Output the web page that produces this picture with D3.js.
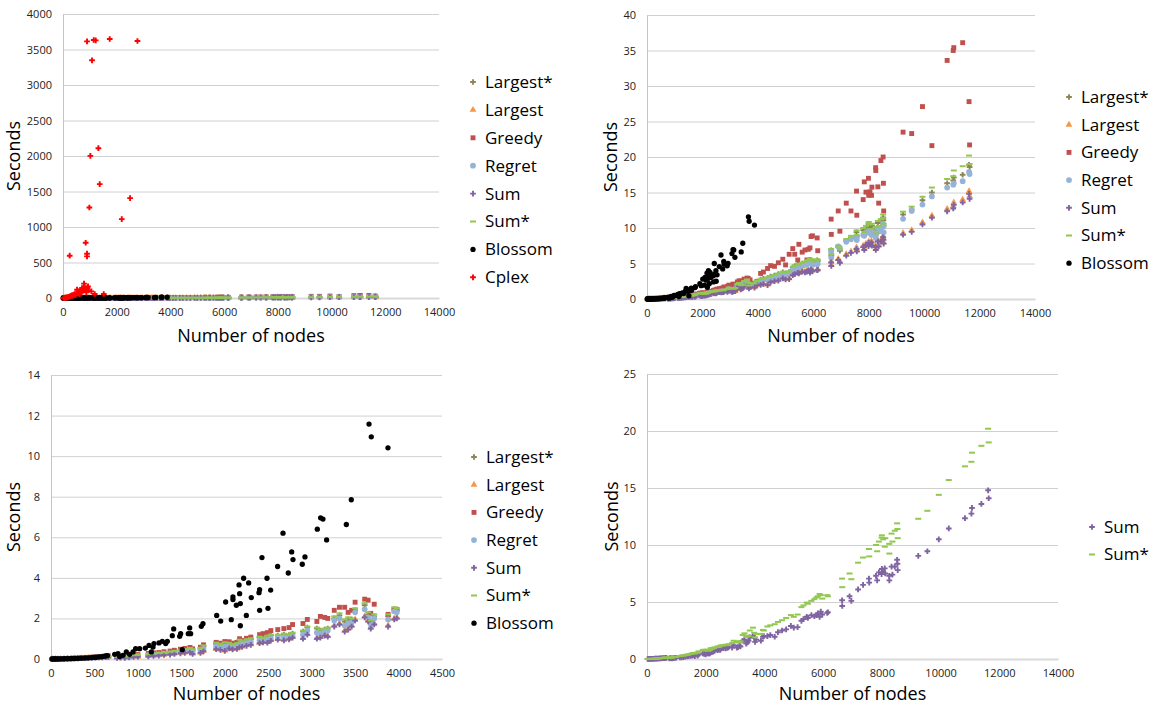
<!DOCTYPE html>
<html>
<head>
<meta charset="utf-8">
<script src="https://cdn.jsdelivr.net/npm/d3@7"></script>
<style>
  body { margin: 0; background: #fff; }
  svg { display: block; font-family: "Open Sans", sans-serif; }
</style>
</head>
<body>
<svg id="chart" width="1150" height="706"></svg>
<script>
// ---- data ----
// heuristic instances: number of nodes
const heurNodes = [20, 50, 80, 110, 150, 190, 230, 270, 310, 350, 390, 430, 470, 510, 550, 590, 630, 660,
  760, 800, 850, 900, 950, 1000, 1120, 1180, 1240, 1300, 1370, 1420, 1490, 1540, 1600, 1630, 1720, 1755,
  1900, 1950, 2000, 2050, 2090, 2140, 2170, 2200, 2250, 2300, 2400, 2440, 2490, 2530, 2610, 2680, 2740, 2780,
  2900, 2950, 3060, 3100, 3150, 3185, 3260, 3320, 3380, 3420, 3460, 3500, 3610, 3650, 3680, 3720, 3880, 3950, 3980,
  4100, 4200, 4350, 4460, 4600, 4740, 4900, 5000, 5130, 5260, 5330, 5440, 5480, 5600, 5700, 5770, 5820, 5880, 5920, 5970, 6140, 6160,
  6645, 6650, 6900, 6960, 7190, 7360, 7560, 7570,
  7800, 7840, 7900, 7990, 8000, 8045, 8100, 8115, 8250, 8255, 8330, 8360, 8440, 8520, 8530, 8540,
  9240, 9550, 9940, 10280, 10830, 11050, 11070, 11390, 11620, 11640];

const sumSecs = [0.001, 0.002, 0.004, 0.006, 0.01, 0.015, 0.018, 0.025, 0.03, 0.037, 0.042, 0.05, 0.059, 0.065, 0.076, 0.084, 0.096, 0.1,
  0.05, 0.07, 0.06, 0.08, 0.1, 0.11, 0.13, 0.15, 0.17, 0.2, 0.22, 0.25, 0.28, 0.3, 0.33, 0.25, 0.3, 0.38,
  0.48, 0.45, 0.4, 0.52, 0.47, 0.5, 0.58, 0.6, 0.65, 0.7, 0.78, 0.82, 0.8, 0.9, 0.95, 0.92, 0.97, 1.05,
  1.0, 1.2, 1.0, 1.05, 1.15, 1.1, 1.6, 1.7, 1.35, 1.45, 1.6, 1.9, 2.05, 1.85, 1.5, 1.7, 1.6, 1.95, 2.0,
  2.0, 2.1, 1.95, 2.35, 2.5, 2.6, 2.9, 2.75, 2.8, 3.35, 3.5, 3.7, 3.6, 3.85, 3.75, 3.85, 4.0, 3.7, 4.15, 3.9, 4.05, 4.1,
  5.15, 4.65, 5.5, 5.1, 6.1, 6.5, 7.05, 6.7,
  7.3, 6.9, 7.6, 7.45, 7.9, 7.65, 7.95, 7.5, 7.3, 6.9, 8.1, 7.4, 8.1, 8.7, 8.35, 7.8,
  9.05, 9.45, 10.5, 11.45, 12.35, 12.75, 13.25, 13.6, 14.8, 14.1];

const sumStarSecs = [0.001, 0.003, 0.005, 0.008, 0.013, 0.019, 0.025, 0.031, 0.04, 0.049, 0.056, 0.068, 0.077, 0.09, 0.1, 0.115, 0.127, 0.14,
  0.1, 0.13, 0.12, 0.16, 0.19, 0.2, 0.25, 0.28, 0.3, 0.33, 0.36, 0.4, 0.45, 0.5, 0.54, 0.48, 0.55, 0.67,
  0.8, 0.75, 0.82, 0.8, 0.73, 0.78, 0.95, 0.88, 0.97, 1.02, 1.1, 1.05, 1.15, 1.2, 1.2, 1.25, 1.22, 1.3,
  1.4, 1.6, 1.55, 1.45, 1.5, 1.55, 2.1, 2.25, 1.95, 2.05, 2.0, 2.5, 2.75, 2.3, 1.9, 2.2, 2.2, 2.55, 2.5,
  2.85, 2.95, 3.05, 3.25, 3.4, 3.6, 3.85, 3.7, 3.9, 4.55, 4.7, 4.95, 4.85, 5.1, 5.25, 5.4, 5.5, 5.7, 5.6, 5.3, 5.6, 5.5,
  7.05, 6.3, 7.5, 7.0, 8.45, 8.9, 9.65, 9.0,
  10.0, 9.45, 10.3, 10.65, 10.85, 10.5, 9.85, 10.6, 10.1, 9.25, 11.0, 10.3, 11.25, 11.9, 11.4, 10.6,
  12.3, 13.0, 14.4, 15.7, 16.9, 17.3, 18.1, 18.7, 20.2, 19.0];

const largestSecs = [0.001, 0.002, 0.004, 0.007, 0.011, 0.015, 0.02, 0.026, 0.032, 0.038, 0.045, 0.053, 0.061, 0.07, 0.079, 0.09, 0.1, 0.106,
  0.06, 0.08, 0.07, 0.09, 0.11, 0.12, 0.14, 0.16, 0.18, 0.21, 0.24, 0.27, 0.3, 0.32, 0.35, 0.27, 0.32, 0.4,
  0.5, 0.47, 0.42, 0.54, 0.49, 0.52, 0.6, 0.62, 0.68, 0.72, 0.8, 0.85, 0.83, 0.93, 0.98, 0.95, 1.0, 1.08,
  1.03, 1.23, 1.03, 1.08, 1.18, 1.13, 1.65, 1.75, 1.4, 1.5, 1.65, 1.95, 2.1, 1.9, 1.55, 1.75, 1.65, 2.0, 2.05,
  2.1, 2.2, 2.05, 2.45, 2.6, 2.7, 3.0, 2.85, 2.9, 3.45, 3.6, 3.8, 3.7, 3.95, 3.85, 3.95, 4.1, 3.8, 4.25, 4.0, 4.15, 4.2,
  5.3, 4.8, 5.65, 5.25, 6.3, 6.7, 7.25, 6.9,
  7.5, 7.1, 7.8, 7.65, 8.1, 7.85, 8.15, 7.7, 7.5, 7.1, 8.3, 7.6, 8.3, 8.9, 8.55, 8.0,
  9.3, 9.7, 10.8, 11.75, 12.7, 13.1, 13.6, 14.0, 15.2, 14.5];

const largestStarSecs = [0.001, 0.003, 0.005, 0.008, 0.012, 0.017, 0.024, 0.03, 0.038, 0.046, 0.055, 0.064, 0.074, 0.085, 0.096, 0.108, 0.12, 0.13,
  0.09, 0.12, 0.11, 0.15, 0.18, 0.19, 0.23, 0.26, 0.28, 0.31, 0.34, 0.38, 0.43, 0.47, 0.51, 0.45, 0.52, 0.63,
  0.76, 0.72, 0.78, 0.76, 0.7, 0.75, 0.9, 0.84, 0.93, 0.98, 1.06, 1.0, 1.1, 1.15, 1.15, 1.2, 1.18, 1.25,
  1.35, 1.55, 1.5, 1.4, 1.45, 1.5, 2.0, 2.15, 1.85, 1.95, 1.95, 2.4, 2.65, 2.2, 1.85, 2.1, 2.1, 2.45, 2.4,
  2.75, 2.85, 2.95, 3.15, 3.3, 3.5, 3.75, 3.6, 3.8, 4.45, 4.6, 4.85, 4.75, 5.0, 5.1, 5.25, 5.35, 5.5, 5.45, 5.15, 5.45, 5.35,
  6.85, 6.1, 7.3, 6.8, 8.2, 8.6, 9.4, 8.75,
  9.7, 9.2, 10.0, 10.3, 10.5, 10.2, 9.6, 10.3, 9.8, 9.0, 10.7, 10.0, 10.9, 11.5, 11.1, 10.3,
  11.9, 12.6, 13.9, 15.0, 16.3, 16.7, 17.1, 17.5, 18.9, 18.6];

const regretSecs = [0.001, 0.003, 0.005, 0.008, 0.012, 0.017, 0.023, 0.029, 0.036, 0.044, 0.052, 0.06, 0.07, 0.08, 0.09, 0.1, 0.112, 0.12,
  0.08, 0.1, 0.09, 0.12, 0.15, 0.16, 0.19, 0.21, 0.23, 0.26, 0.28, 0.31, 0.35, 0.38, 0.41, 0.36, 0.42, 0.5,
  0.62, 0.6, 0.62, 0.64, 0.58, 0.62, 0.75, 0.72, 0.8, 0.85, 0.92, 0.9, 0.95, 1.0, 1.05, 1.08, 1.05, 1.12,
  1.2, 1.4, 1.3, 1.25, 1.35, 1.4, 1.9, 2.0, 1.65, 1.75, 1.8, 2.3, 2.45, 2.05, 1.7, 2.0, 1.95, 2.35, 2.3,
  2.6, 2.7, 2.75, 3.0, 3.1, 3.3, 3.5, 3.4, 3.6, 4.1, 4.3, 4.5, 4.4, 4.7, 4.8, 4.9, 5.0, 5.1, 5.1, 4.8, 4.9, 4.95,
  6.65, 5.8, 7.4, 7.2, 8.05, 8.4, 8.55, 8.3,
  9.0, 8.9, 9.3, 9.5, 9.6, 9.3, 9.0, 9.4, 9.2, 8.6, 9.9, 9.5, 10.0, 10.6, 10.2, 9.4,
  11.3, 12.4, 13.3, 14.45, 15.7, 16.1, 16.3, 16.6, 17.9, 17.6];

const greedySecs = [0.001, 0.003, 0.006, 0.009, 0.014, 0.02, 0.027, 0.035, 0.045, 0.054, 0.065, 0.076, 0.088, 0.1, 0.115, 0.13, 0.145, 0.155,
  0.11, 0.14, 0.13, 0.17, 0.2, 0.22, 0.27, 0.3, 0.32, 0.36, 0.39, 0.43, 0.48, 0.52, 0.57, 0.5, 0.58, 0.7,
  0.82, 0.78, 0.86, 0.85, 0.78, 0.82, 1.0, 0.92, 1.02, 1.08, 1.2, 1.25, 1.3, 1.4, 1.45, 1.5, 1.55, 1.7,
  1.75, 1.95, 1.85, 2.1, 2.05, 2.0, 2.4, 2.55, 2.55, 2.3, 2.4, 2.8, 2.95, 2.9, 2.25, 2.7, 2.2, 2.4, 2.45,
  3.6, 3.8, 4.3, 4.7, 4.6, 5.1, 5.6, 4.8, 6.3, 7.1, 6.3, 5.5, 7.7, 6.6, 6.9, 5.5, 7.0, 7.2, 8.8, 8.9, 8.6, 6.8,
  11.25, 9.1, 12.4, 9.55, 13.5, 12.4, 15.2, 11.8,
  14.0, 16.5, 15.05, 17.0, 14.6, 15.1, 14.6, 15.75, 18.5, 18.1, 15.8, 13.5, 19.5, 20.0, 16.3, 12.4,
  23.5, 23.3, 27.1, 21.6, 33.6, 35.0, 35.4, 36.1, 27.8, 21.7];

const blossomNodes = [10, 25, 40, 55, 70, 90, 110, 130, 150, 175, 200, 225, 250, 280, 310, 340, 370, 400, 430, 460, 490, 520, 550, 580, 610, 630, 650,
  733, 771, 790, 829, 867, 905, 944, 974, 1020, 1086, 1128, 1155, 1174, 1185, 1243, 1281, 1320, 1339, 1396, 1412, 1481, 1492, 1511,
  1580, 1596, 1607, 1730, 1749, 1907, 1953, 2010, 2075, 2094, 2094, 2133, 2164, 2171, 2179, 2179, 2217, 2248, 2275, 2305,
  2394, 2401, 2401, 2428, 2486, 2497, 2528, 2608, 2670, 2731, 2770, 2785, 2892, 2923, 3065, 3103, 3130, 3172, 3399, 3456, 3660, 3686, 3878];
const blossomSecs = [0.001, 0.002, 0.003, 0.004, 0.005, 0.006, 0.008, 0.01, 0.012, 0.015, 0.018, 0.021, 0.025, 0.029, 0.034, 0.039, 0.045, 0.052, 0.06, 0.068, 0.077, 0.087, 0.1, 0.11, 0.13, 0.15, 0.17,
  0.23, 0.26, 0.12, 0.18, 0.35, 0.23, 0.35, 0.51, 0.51, 0.54, 0.67, 0.35, 0.59, 0.76, 0.79, 0.87, 0.76, 0.87, 1.15, 1.48, 1.12, 1.25, 0.46,
  1.25, 1.53, 1.25, 1.61, 1.74, 2.15, 1.87, 2.81, 1.94, 2.93, 3.06, 2.65, 3.65, 3.22, 2.73, 1.64, 3.98, 2.15, 3.75, 3.03,
  3.27, 3.42, 2.4, 5.0, 3.98, 2.5, 3.4, 4.56, 6.2, 4.24, 5.28, 4.9, 4.67, 5.03, 6.4, 6.96, 6.9, 5.87, 6.63, 7.85, 11.58, 10.95, 10.41];

const cplexNodes = [20, 50, 80, 110, 140, 170, 200, 230, 249, 260, 290, 320, 350, 380, 410, 440, 470, 500, 522, 540, 559, 590, 620, 650, 680, 710, 740,
  783, 800, 820, 845, 870, 895, 895, 895, 910, 932, 950, 982, 1019, 1057, 1081, 1144, 1181, 1218, 1318, 1367, 1516, 1740, 2188, 2498, 2772];
const cplexSecs = [1, 2, 3, 5, 7, 10, 14, 18, 596, 23, 28, 34, 40, 30, 48, 55, 40, 70, 117, 60, 70, 95, 50, 110, 85, 140, 100,
  202, 160, 120, 778, 80, 3615, 624, 586, 140, 164, 110, 1275, 2002, 94, 3348, 3634, 56, 3629, 2110, 1604, 56, 3648, 1111, 1407, 3620];

const legendNames = ["Largest*", "Largest", "Greedy", "Regret", "Sum", "Sum*", "Blossom", "Cplex"];

// ---- styles ----
const styles = {
  "Largest*": { color: "#8c8556", sym: d3.symbolCross, size: 18 },
  "Largest":  { color: "#f79646", sym: d3.symbolTriangle, size: 20 },
  "Greedy":   { color: "#c0504d", sym: d3.symbolSquare, size: 24 },
  "Regret":   { color: "#95b3d7", sym: d3.symbolCircle, size: 26 },
  "Sum":      { color: "#8064a2", sym: d3.symbolCross, size: 18 },
  "Sum*":     { color: "#92c84f", sym: null },
  "Blossom":  { color: "#000000", sym: d3.symbolCircle, size: 22 },
  "Cplex":    { color: "#ff0000", sym: d3.symbolCross, size: 18 }
};

const seriesData = {
  "Largest*": [heurNodes, largestStarSecs],
  "Largest":  [heurNodes, largestSecs],
  "Greedy":   [heurNodes, greedySecs],
  "Regret":   [heurNodes, regretSecs],
  "Sum":      [heurNodes, sumSecs],
  "Sum*":     [heurNodes, sumStarSecs],
  "Blossom":  [blossomNodes, blossomSecs],
  "Cplex":    [cplexNodes, cplexSecs]
};

// nodeMax: the bottom-left chart only holds the instances below 4000 nodes
const panels = [
  { left: 63, right: 439, top: 14, bottom: 298, xMax: 14000, xStep: 2000, yMax: 4000, yStep: 500, nodeMax: 14000,
    names: legendNames, legX: 473, legY: 82, legStep: 27.9, yTitleX: 20, xTitleY: 342 },
  { left: 647, right: 1035, top: 15, bottom: 299, xMax: 14000, xStep: 2000, yMax: 40, yStep: 5, nodeMax: 14000,
    names: legendNames.slice(0, 7), legX: 1069, legY: 97, legStep: 27.7, yTitleX: 617, xTitleY: 342 },
  { left: 51, right: 442, top: 375, bottom: 659, xMax: 4500, xStep: 500, yMax: 14, yStep: 2, nodeMax: 4000,
    names: legendNames.slice(0, 7), legX: 474, legY: 457, legStep: 27.7, yTitleX: 20, xTitleY: 700 },
  { left: 647, right: 1058, top: 374, bottom: 659, xMax: 14000, xStep: 2000, yMax: 25, yStep: 5, nodeMax: 14000,
    names: ["Sum", "Sum*"], legX: 1092, legY: 527, legStep: 27.5, yTitleX: 618, xTitleY: 700 }
];

const svg = d3.select("#chart");
svg.append("rect").attr("width", 1150).attr("height", 706).attr("fill", "#fff");

// one marker drawn at (x, y)
const drawMarker = (g, name, x, y) => {
  const s = styles[name];
  if (name === "Sum*") {
    g.append("rect").attr("x", x - 3).attr("y", y - 1).attr("width", 6).attr("height", 2).attr("fill", s.color);
  } else {
    g.append("path")
      .attr("d", d3.symbol().type(s.sym).size(s.size)())
      .attr("transform", `translate(${x},${y})${s.sym === d3.symbolCross ? " rotate(0)" : ""}`)
      .attr("fill", s.color);
  }
};

panels.forEach((p) => {
  const g = svg.append("g");
  const xScale = d3.scaleLinear().domain([0, p.xMax]).range([p.left, p.right]);
  const yScale = d3.scaleLinear().domain([0, p.yMax]).range([p.bottom, p.top]);
  const xTicks = d3.range(0, p.xMax + 1, p.xStep);
  const yTicks = d3.range(0, p.yMax + 0.001, p.yStep);

  // horizontal gridlines
  const yGrid = d3.axisLeft(yScale).tickValues(yTicks).tickSize(-(p.right - p.left)).tickFormat("");
  g.append("g").attr("transform", `translate(${p.left},0)`).call(yGrid)
    .call((a) => a.select(".domain").remove())
    .call((a) => a.selectAll("line").attr("stroke", "#d0d0d0").attr("stroke-width", 1));

  // y axis labels
  const yAxis = d3.axisLeft(yScale).tickValues(yTicks).tickSize(0).tickPadding(11).tickFormat(d3.format("d"));
  g.append("g").attr("transform", `translate(${p.left},0)`).call(yAxis)
    .call((a) => a.select(".domain").attr("stroke", "#c4c4c4"))
    .call((a) => a.selectAll("text").attr("font-size", 11).attr("fill", "#222").attr("font-family", "Open Sans"));

  // x axis
  const xAxis = d3.axisBottom(xScale).tickValues(xTicks).tickSize(0).tickPadding(10).tickFormat(d3.format("d"));
  g.append("g").attr("transform", `translate(0,${p.bottom})`).call(xAxis)
    .call((a) => a.select(".domain").attr("stroke", "#d9d9d9").attr("stroke-width", 2))
    .call((a) => a.selectAll("text").attr("font-size", 11).attr("fill", "#222").attr("font-family", "Open Sans"));

  // markers, clipped to the plot box
  const clipId = `clip${p.left}${p.top}`;
  svg.append("clipPath").attr("id", clipId).append("rect")
    .attr("x", p.left - 4).attr("y", p.top - 4).attr("width", p.right - p.left + 8).attr("height", p.bottom - p.top + 8);
  const marks = g.append("g").attr("clip-path", `url(#${clipId})`);
  p.names.forEach((name) => {
    const [xs, ys] = seriesData[name];
    xs.forEach((n, i) => {
      if (n > p.nodeMax || ys[i] > p.yMax) return;
      drawMarker(marks, name, xScale(n), yScale(ys[i]));
    });
  });

  // legend
  p.names.forEach((name, i) => {
    const ly = p.legY + i * p.legStep;
    drawMarker(g, name, p.legX, ly);
    g.append("text").attr("x", p.legX + 12).attr("y", ly).attr("dy", "0.35em")
      .attr("font-size", 17).attr("fill", "#000").text(name);
  });

  // axis titles
  g.append("text").attr("x", (p.left + p.right) / 2).attr("y", p.xTitleY)
    .attr("text-anchor", "middle").attr("font-size", 18).attr("fill", "#000").text("Number of nodes");
  g.append("text").attr("transform", `translate(${p.yTitleX},${(p.top + p.bottom) / 2}) rotate(-90)`)
    .attr("text-anchor", "middle").attr("font-size", 18).attr("fill", "#000").text("Seconds");
});
</script>
</body>
</html>
